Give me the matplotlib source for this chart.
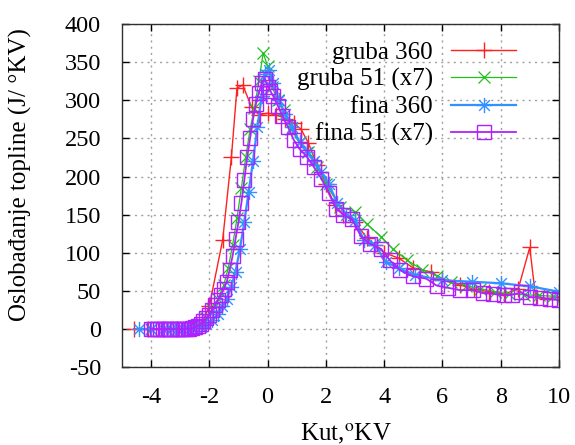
import matplotlib
matplotlib.use("Agg")
import matplotlib.pyplot as plt
from matplotlib.path import Path

plt.rcParams['font.family'] = ['Liberation Serif', 'DejaVu Serif']
plt.rcParams['mathtext.fontset'] = 'stix'
plt.rcParams['axes.unicode_minus'] = False

# gruba 360
red_x = [-4.6, -4.1, -3.6, -3.1, -2.6, -2.25, -2.0, -1.54, -1.24, -1.05, -0.85, -0.55, -0.3, 0.0,
         0.3, 0.6, 0.9, 1.15, 1.4, 1.7, 2.0, 2.3, 2.6, 3.0, 3.4, 3.7, 4.0, 4.5, 5.0, 5.6, 6.0,
         6.6, 7.1, 7.6, 8.1, 8.6, 9.0, 9.2, 9.6, 10.0]
red_y = [0, 0, 0, 0, 1, 8, 30, 117, 226, 316, 320, 291, 281, 283,
         281, 276, 270, 262, 244, 215, 190, 163, 150, 140, 120, 110, 100, 93, 80, 75, 64,
         58, 52, 49, 46, 52, 107, 42, 40, 42]

# gruba 51 (x7)
green_x = [-4.0, -3.5, -3.0, -2.6, -2.3, -2.1, -1.9, -1.7, -1.5, -1.35, -1.2, -1.05, -0.9, -0.75,
           -0.6, -0.45, -0.3, -0.15, 0.0, 0.15, 0.35, 0.55, 0.8, 1.1, 1.4, 1.7, 2.0, 2.5, 3.0,
           3.4, 3.9, 4.3, 4.8, 5.3, 5.8, 6.3, 6.8, 7.3, 7.8, 8.3, 8.8, 9.3, 9.8]
green_y = [0, 0, 0, 2, 8, 15, 26, 40, 58, 80, 110, 145, 185, 225,
           262, 290, 325, 362, 345, 318, 300, 287, 262, 245, 232, 212, 190, 160, 154,
           138, 121, 105, 90, 78, 70, 62, 57, 53, 49, 46, 45, 44, 43]

# fina 360
blue_x = [-4.4, -4.0, -3.6, -3.3, -3.1, -2.9, -2.7, -2.5, -2.3, -2.1, -1.9, -1.7, -1.55, -1.4,
          -1.25, -1.1, -0.95, -0.8, -0.65, -0.5, -0.35, -0.2, -0.1, 0.05, 0.2, 0.4, 0.6, 0.85,
          1.1, 1.35, 1.6, 1.85, 2.1, 2.4, 2.7, 3.0, 3.3, 3.7, 4.05, 4.5, 5.05, 6.0, 7.0, 8.0,
          9.0, 10.0]
blue_y = [0, 0, 0, 0, 0, 0, 0, 1, 3, 6, 12, 20, 30, 40,
          55, 75, 105, 140, 180, 220, 265, 305, 335, 340, 322, 300, 282, 265,
          245, 232, 220, 206, 190, 165, 150, 143, 117, 110, 88, 80, 71, 64, 62, 60,
          56, 49]

# fina 51 (x7)
purple_x = [-4.0, -3.9, -3.8, -3.7, -3.6, -3.5, -3.4, -3.3, -3.2, -3.1, -3.0, -2.9, -2.8, -2.7,
            -2.6, -2.5, -2.4, -2.3, -2.2, -2.1, -2.0, -1.9, -1.8, -1.7, -1.6, -1.5, -1.4, -1.3,
            -1.2, -1.1, -1.0, -0.9, -0.8, -0.7, -0.6, -0.5, -0.4, -0.3, -0.2, -0.1, 0.0, 0.1,
            0.2, 0.35, 0.5, 0.7, 0.9, 1.1, 1.35, 1.6, 1.85, 2.1, 2.35, 2.6, 2.9, 3.2, 3.5, 3.9,
            4.2, 4.55, 5.0, 5.45, 5.8, 6.2, 6.6, 7.05, 7.4, 7.75, 8.1, 8.4, 8.7, 9.0, 9.35, 9.7,
            10.0]
purple_y = [0, 0, 0, 0, 0, 0, 0, 0, 0, 0, 0, 0, 0, 0,
            1, 2, 4, 7, 10, 14, 19, 25, 31, 38, 45, 53, 62, 78,
            96, 118, 140, 165, 195, 225, 250, 275, 295, 310, 322, 328, 318, 312,
            305, 293, 280, 265, 248, 236, 226, 212, 197, 178, 158, 150, 144, 122, 112, 105,
            90, 77, 69, 66, 57, 54, 51, 51, 47, 46, 44, 45, 48, 42, 41, 39,
            38]

labels = ["gruba 360", "gruba 51 (x7)", "fina 360", "fina 51 (x7)"]
x_ticks = [-4, -2, 0, 2, 4, 6, 8, 10]
y_ticks = [-50, 0, 50, 100, 150, 200, 250, 300, 350, 400]

# gnuplot-style star: + and x combined
star = Path([(-1, 0), (1, 0), (0, -1), (0, 1), (-0.7, -0.7), (0.7, 0.7), (-0.7, 0.7), (0.7, -0.7)],
            [Path.MOVETO, Path.LINETO] * 4)

fig = plt.figure(figsize=(5.75, 4.45), dpi=100)
ax = fig.add_axes([0.212, 0.175, 0.760, 0.771])

ax.plot(red_x, red_y, color='#ff2020', lw=1.0, marker='+', ms=12, mew=1.0, label=labels[0])
ax.plot(green_x, green_y, color='#20c020', lw=0.9, marker='x', ms=9, mew=0.9, label=labels[1])
ax.plot(blue_x, blue_y, color='#3390ff', lw=1.6, marker=star, ms=11, mew=1.0, label=labels[2])
ax.plot(purple_x, purple_y, color='#b020ff', lw=1.3, marker='s', ms=10, mew=1.0,
        mfc='none', label=labels[3])

ax.set_xlim(-5, 10)
ax.set_ylim(-50, 400)
ax.set_xticks(x_ticks)
ax.set_yticks(y_ticks)
ax.tick_params(direction='in', length=5, width=1, top=True, right=True, labelsize=17.5)
ax.tick_params(axis='x', pad=14)
ax.tick_params(axis='y', pad=15)
ax.grid(True, color='#a0a0a0', linestyle=(0, (1.5, 3)), linewidth=1.0)
for s in ax.spines.values():
    s.set_linewidth(1.0)
    s.set_color('#303030')

ax.set_xlabel('Kut,$^{\\mathrm{o}}$KV', fontsize=18)
ax.xaxis.set_label_coords(0.513, -0.158)
ax.set_ylabel('Oslobađanje topline (J/ °KV)', fontsize=18)
ax.yaxis.set_label_coords(-0.206, 0.56)

leg = ax.legend(loc='upper right', bbox_to_anchor=(0.902, 0.95), frameon=False, markerfirst=False,
                fontsize=18, handlelength=2.6, labelspacing=0.18, handletextpad=0.72,
                borderaxespad=0.0, borderpad=0.0)

fig.savefig('out.png', dpi=100)
